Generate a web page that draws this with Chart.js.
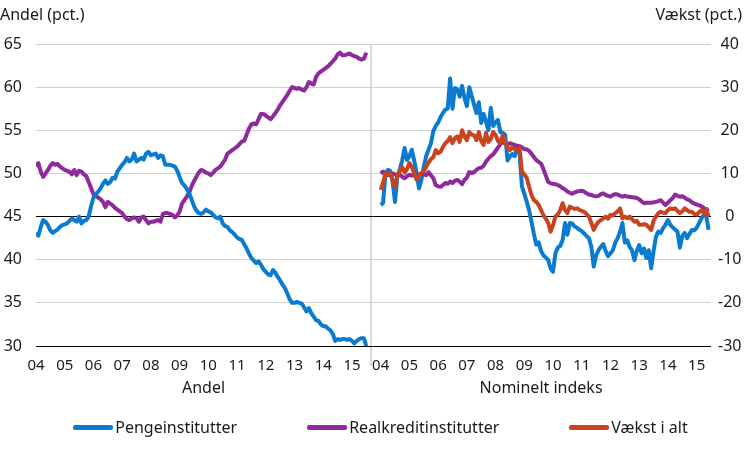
<!DOCTYPE html>
<html>
<head>
<meta charset="utf-8">
<script src="https://cdn.jsdelivr.net/npm/chart.js@4"></script>
<style>
    body { margin: 0; background: #fff; font-family: "Noto Sans", sans-serif; color: #1a1a1a; }
    #wrap { position: relative; width: 751px; height: 449px; }
    #legend { position: absolute; left: 10px; top: 416px; width: 741px; display: flex; justify-content: center; gap: 70px; font-size: 16px; }
    #legend span.item { display: flex; align-items: center; }
    #legend span.swatch { display: inline-block; width: 40px; height: 5px; border-radius: 2px; margin-right: 2px; }
</style>
</head>
<body>
<div id="wrap">
    <canvas id="chart"></canvas>
    <div id="legend"></div>
</div>
<script>
// tick labels (years) used in both panels
const yearLabels = ['04', '05', '06', '07', '08', '09', '10', '11', '12', '13', '14', '15'];

// Andel (pct.), monthly from Jan 2004
const andelPenge = [
    43.1, 42.8, 43.8, 44.6, 44.4, 44.0, 43.4, 43.1, 43.3, 43.5,
    43.8, 44.0, 44.1, 44.2, 44.5, 44.8, 44.6, 44.4, 45.0, 44.2,
    44.5, 44.6, 45.0, 46.2, 47.2, 47.6, 47.9, 48.3, 48.8, 49.2,
    48.8, 49.0, 49.5, 49.4, 50.2, 50.6, 51.0, 51.3, 51.8, 51.4,
    51.6, 52.3, 51.4, 51.6, 51.8, 51.6, 52.3, 52.5, 52.1, 52.2,
    52.3, 51.8, 52.1, 52.0, 51.0, 51.0, 51.0, 50.9, 50.8, 50.3,
    49.6, 48.9, 48.6, 48.2, 47.7, 47.0, 46.2, 45.7, 45.4, 45.3,
    45.5, 45.8, 45.6, 45.5, 45.2, 44.9, 44.8, 45.0, 44.2, 43.9,
    43.8, 43.4, 43.2, 42.9, 42.6, 42.4, 42.3, 41.8, 41.3, 40.7,
    40.2, 39.9, 39.6, 39.8, 39.4, 38.9, 38.6, 38.3, 38.2, 38.8,
    38.5, 38.0, 37.6, 37.1, 36.7, 36.1, 35.4, 35.0, 35.0, 35.1,
    35.0, 34.9, 34.5, 34.0, 34.4, 33.8, 33.4, 33.0, 32.9, 32.5,
    32.3, 32.3, 32.0, 31.8, 31.4, 30.6, 30.8, 30.7, 30.8, 30.8,
    30.7, 30.8, 30.6, 30.3, 30.6, 30.8, 30.9, 30.9, 30.0
];
const andelRealkredit = [
    50.8, 51.2, 50.2, 49.6, 50.0, 50.4, 50.9, 51.2, 51.0, 51.1,
    50.8, 50.6, 50.4, 50.3, 50.2, 49.9, 50.4, 49.8, 50.3, 50.2,
    49.9, 49.7, 49.0, 48.3, 47.6, 47.4, 47.2, 47.0, 46.7, 46.1,
    46.7, 46.5, 46.3, 46.0, 45.8, 45.6, 45.4, 45.0, 44.7, 44.6,
    44.8, 44.9, 44.8, 44.4, 44.9, 45.0, 44.6, 44.2, 44.4, 44.4,
    44.5, 44.6, 44.4, 45.3, 45.4, 45.4, 45.3, 45.2, 44.9, 45.1,
    45.6, 46.5, 46.9, 47.3, 47.8, 48.5, 49.1, 49.6, 50.1, 50.4,
    50.3, 50.1, 50.0, 49.8, 50.1, 50.4, 50.6, 50.8, 51.2, 51.6,
    52.3, 52.5, 52.7, 52.9, 53.1, 53.4, 53.7, 53.8, 54.5, 55.2,
    55.7, 55.8, 55.7, 56.3, 56.9, 56.9, 56.7, 56.5, 56.3, 56.6,
    57.0, 57.4, 57.9, 58.3, 58.7, 59.1, 59.6, 60.0, 59.9, 59.8,
    59.9, 59.7, 59.6, 60.0, 60.6, 60.4, 60.3, 61.2, 61.6, 61.8,
    62.0, 62.2, 62.4, 62.7, 63.0, 63.3, 63.8, 64.0, 63.7, 63.7,
    63.8, 63.9, 63.7, 63.6, 63.5, 63.3, 63.2, 63.3, 64.0
];

// Vækst (pct.), nominelt indeks, monthly from Jan 2004
const vaekstPenge = [
    2.7, 3.1, 10.0, 10.8, 10.6, 8.0, 3.4, 9.5, 11.0, 13.0,
    15.9, 13.1, 14.0, 15.5, 13.0, 10.0, 6.5, 8.5, 11.5, 14.0,
    15.5, 17.0, 19.8, 21.0, 21.8, 23.0, 24.0, 24.8, 25.0, 32.0,
    25.0, 29.8, 29.5, 27.8, 30.3, 27.5, 25.6, 30.0, 28.0, 26.0,
    24.0, 26.5, 21.7, 23.8, 22.0, 20.0, 25.2, 21.0, 21.8, 22.4,
    19.6, 19.4, 19.0, 13.0, 14.0, 14.5, 14.0, 16.1, 14.8, 7.0,
    5.3, 3.5, 1.5, -1.2, -4.0, -6.5, -6.0, -8.0, -9.0, -9.5,
    -10.1, -12.0, -12.8, -8.5, -7.2, -6.8, -5.5, -1.5, -4.2, -1.5,
    -1.6, -2.3, -2.6, -3.0, -3.4, -3.9, -4.5, -5.0, -7.0, -11.6,
    -9.0, -7.8, -7.0, -6.4, -8.0, -9.2, -8.5, -7.8, -6.0, -5.0,
    -3.5, -1.5, -6.0, -5.5, -7.0, -7.8, -10.1, -8.0, -6.6, -8.5,
    -7.4, -9.6, -7.8, -12.0, -8.0, -4.7, -3.5, -3.8, -2.7, -1.9,
    -0.8, -1.9, -2.5, -3.0, -3.5, -7.2, -4.5, -3.8, -5.0, -4.0,
    -3.1, -3.2, -2.6, -1.5, -0.4, 0.4, 0.2, -3.1
];
const vaekstRealkredit = [
    10.0, 10.4, 9.8, 9.6, 9.8, 10.0, 9.8, 9.6, 9.7, 9.2,
    8.9, 9.3, 9.7, 9.5, 9.6, 9.6, 9.8, 10.0, 9.8, 9.6,
    10.3, 9.6, 8.9, 7.3, 7.0, 6.9, 7.3, 7.8, 7.6, 8.1,
    7.8, 8.3, 8.5, 8.1, 7.5, 8.5, 9.0, 10.3, 10.1, 10.3,
    10.8, 11.2, 11.3, 11.8, 12.7, 13.4, 14.0, 14.4, 15.2, 16.0,
    16.8, 17.3, 17.0, 16.6, 17.0, 16.8, 16.6, 16.4, 16.3, 16.1,
    15.6, 15.6, 15.2, 14.6, 13.8, 13.1, 12.7, 12.3, 11.0, 9.5,
    8.0, 7.7, 7.6, 7.5, 7.3, 7.0, 6.6, 6.3, 5.8, 5.5,
    5.3, 5.6, 5.8, 5.9, 6.0, 5.8, 5.4, 5.1, 5.0, 4.8,
    4.7, 4.8, 5.2, 5.4, 5.0, 4.8, 4.6, 5.0, 5.2, 5.1,
    4.8, 4.6, 4.8, 4.6, 4.6, 4.5, 4.4, 4.3, 4.0, 3.5,
    3.1, 3.2, 3.2, 3.2, 3.3, 3.4, 3.6, 3.8, 3.2, 2.7,
    3.2, 3.8, 4.3, 5.1, 4.8, 4.6, 4.7, 4.4, 4.0, 3.8,
    3.3, 3.0, 2.8, 2.6, 2.4, 2.0, 1.5, 1.9
];
const vaekstIalt = [
    6.2, 7.8, 10.0, 9.8, 10.0, 8.5, 6.9, 9.6, 10.5, 11.5,
    10.2, 11.0, 12.4, 11.5, 10.0, 8.5, 9.5, 10.0, 10.5, 11.5,
    12.5, 13.3, 13.8, 15.4, 14.7, 15.0, 16.1, 17.0, 17.5, 18.4,
    17.0, 18.2, 18.6, 17.3, 20.0, 18.6, 17.7, 19.6, 19.0, 18.8,
    17.7, 19.6, 17.5, 16.6, 19.4, 17.3, 18.0, 19.6, 18.9, 17.5,
    17.0, 18.9, 17.3, 16.0, 15.4, 16.1, 15.6, 15.4, 15.9, 10.5,
    9.8, 9.0, 6.9, 5.0, 3.8, 3.4, 2.7, 1.5, 0.3, -0.5,
    -1.5, -3.5, -2.0, 0.0, 0.5, 1.5, 3.1, 1.5, 0.8, 2.3,
    2.0, 1.8, 1.9, 1.6, 1.3, 1.1, 0.6, 0.0, -1.5, -3.1,
    -2.0, -1.2, -0.8, -0.4, 0.0, -0.5, 0.4, 0.2, 0.8, 1.2,
    1.9, -0.4, 0.0, -0.4, 0.0, -0.6, -1.2, -1.0, -1.9, -1.9,
    -1.8, -1.9, -2.5, -3.1, -1.0, 0.0, 0.8, 1.1, 0.9, 0.8,
    1.5, 1.9, 1.7, 1.9, 1.3, 0.8, 1.2, 1.9, 1.5, 1.1,
    1.1, 0.6, 0.4, 1.0, 1.5, 0.8, 1.5, 0.0
];

const colorPenge = '#0b7bd0';
const colorRealkredit = '#8e2a9c';
const colorIalt = '#c9431f';
const textColor = '#1a1a1a';

// the right panel starts this many months after the left one on the shared x axis
const rightOffset = 144;
const dividerAt = 140;
const xMax = 282;

// x positions (months) of year ticks in both panels plus the panel divider
const xTickValues = [];
yearLabels.forEach((_, i) => xTickValues.push(i * 12));
xTickValues.push(dividerAt);
yearLabels.forEach((_, i) => xTickValues.push(rightOffset + i * 12));

function toPoints(values, offset) {
    return values.map((v, i) => ({ x: offset + i, y: v }));
}

function xLabel(value) {
    if (value === dividerAt) return '';
    const m = value < dividerAt ? value : value - rightOffset;
    return yearLabels[m / 12];
}

function lineSet(label, color, values, offset, axis, inLegend) {
    return {
        label: label,
        data: toPoints(values, offset),
        yAxisID: axis,
        borderColor: color,
        backgroundColor: color,
        borderWidth: 4,
        pointRadius: 0,
        borderJoinStyle: 'round',
        inLegend: inLegend
    };
}

const datasets = [
    lineSet('Pengeinstitutter', colorPenge, andelPenge, 0, 'y', true),
    lineSet('Realkreditinstitutter', colorRealkredit, andelRealkredit, 0, 'y', true),
    lineSet('Vækst i alt', colorIalt, vaekstIalt, rightOffset, 'y2', true),
    lineSet('Realkreditinstitutter', colorRealkredit, vaekstRealkredit, rightOffset, 'y2', false),
    lineSet('Pengeinstitutter', colorPenge, vaekstPenge, rightOffset, 'y2', false)
];

// axis titles and panel names drawn as text on the canvas
const panelText = {
    id: 'panelText',
    afterDraw(chart) {
        const ctx = chart.ctx;
        const x = chart.scales.x;
        ctx.save();
        ctx.fillStyle = textColor;
        ctx.font = '16px "Noto Sans"';
        ctx.textBaseline = 'middle';
        ctx.textAlign = 'left';
        ctx.fillText('Andel (pct.)', 0, 15);
        ctx.textAlign = 'right';
        ctx.fillText('Vækst (pct.)', chart.width - 9, 15);
        ctx.textAlign = 'center';
        ctx.fillText('Andel', x.getPixelForValue(dividerAt / 2), 388);
        ctx.fillText('Nominelt indeks', x.getPixelForValue((dividerAt + xMax) / 2), 388);
        ctx.restore();
    }
};

Chart.defaults.font.family = '"Noto Sans", sans-serif';
Chart.defaults.color = textColor;

new Chart(document.getElementById('chart'), {
    type: 'line',
    data: { datasets: datasets },
    options: {
        responsive: true,
        maintainAspectRatio: false,
        animation: false,
        layout: { padding: { top: 44, left: 0, right: 0, bottom: 73 } },
        plugins: {
            legend: { display: false },
            tooltip: { enabled: false }
        },
        scales: {
            x: {
                type: 'linear',
                min: 0,
                max: xMax,
                afterBuildTicks: axis => {
                    axis.ticks = xTickValues.map(v => ({ value: v }));
                },
                afterFit: axis => { axis.height = 30; },
                ticks: {
                    autoSkip: false,
                    maxRotation: 0,
                    padding: -9,
                    font: { size: 15 },
                    callback: value => xLabel(value)
                },
                grid: {
                    drawTicks: true,
                    tickLength: 20,
                    lineWidth: 2,
                    color: c => (c.tick && c.tick.value === dividerAt) ? '#d9d9d9' : 'rgba(0,0,0,0)'
                },
                border: { display: false }
            },
            y: {
                position: 'left',
                min: 30,
                max: 65,
                afterFit: axis => { axis.width = 36; },
                ticks: { stepSize: 5, padding: 14, font: { size: 16 } },
                grid: {
                    drawTicks: false,
                    color: c => (c.tick.value === 45 || c.tick.value === 30) ? '#000' : '#d0d0d0'
                },
                border: { display: false }
            },
            y2: {
                position: 'right',
                min: -30,
                max: 40,
                afterFit: axis => { axis.width = 40; },
                ticks: { stepSize: 10, padding: 7, crossAlign: 'center', font: { size: 16 } },
                grid: { display: false, drawTicks: false },
                border: { display: false }
            }
        }
    },
    plugins: [panelText]
});

// legend below the chart, one entry per series
const legend = document.getElementById('legend');
datasets.filter(d => d.inLegend).forEach(d => {
    const item = document.createElement('span');
    item.className = 'item';
    const swatch = document.createElement('span');
    swatch.className = 'swatch';
    swatch.style.background = d.borderColor;
    item.appendChild(swatch);
    item.appendChild(document.createTextNode(d.label));
    legend.appendChild(item);
});
</script>
</body>
</html>
